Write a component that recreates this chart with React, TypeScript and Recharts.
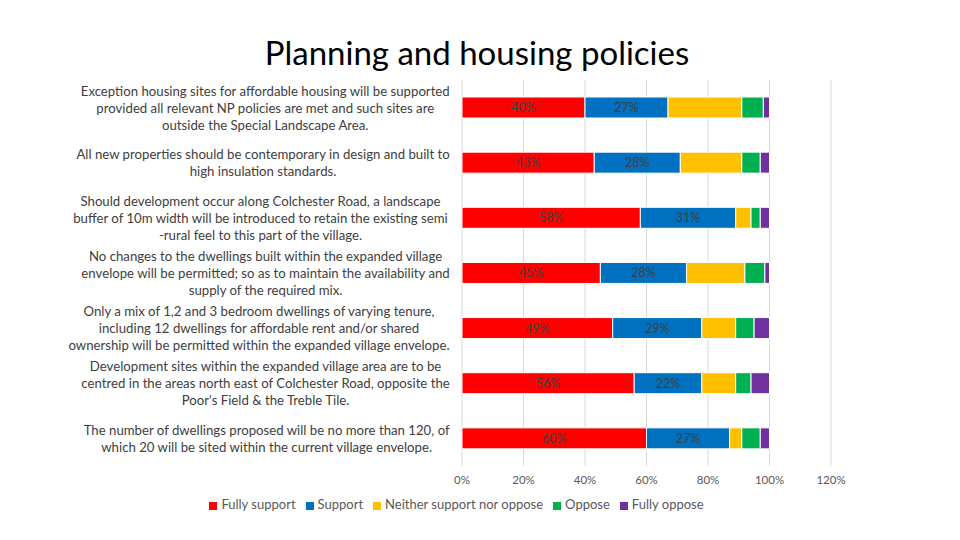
import { BarChart, Bar, XAxis, YAxis, CartesianGrid, Legend, LabelList } from 'recharts';

const FONT = 'Lato, "Noto Sans", sans-serif';

// policy statements, split where the original wraps
const policies = [
  'Exception housing sites for affordable housing will be supported\nprovided all relevant NP policies are met and such sites are\noutside the Special Landscape Area.',
  'All new properties should be contemporary in design and built to\nhigh insulation standards.',
  'Should development occur along Colchester Road, a landscape\nbuffer of 10m width  will be introduced to retain the existing semi\n-rural feel to this part of the village.',
  'No changes to the dwellings built within the expanded village\nenvelope will be permitted; so as to maintain the availability and\nsupply of the required mix.',
  'Only a mix of 1,2 and 3 bedroom dwellings of varying tenure,\nincluding 12 dwellings for affordable rent and/or shared\nownership will be permitted within the expanded village envelope.',
  "Development sites within the expanded village area are to be\ncentred in the areas north east of Colchester Road, opposite the\nPoor's Field & the Treble Tile.",
  'The number of dwellings proposed will be no more than 120, of\nwhich 20 will be sited within the current village envelope.',
];

const fullySupport = [40, 43, 58, 45, 49, 56, 60];
const support = [27, 28, 31, 28, 29, 22, 27];
const neither = [24, 20, 5, 19, 11, 11, 4];
const oppose = [7, 6, 3, 6.5, 6, 5, 6];
const fullyOppose = [2, 3, 3, 1.5, 5, 6, 3];

const xTicks = [0, 20, 40, 60, 80, 100, 120];

const seriesOrder = ['fullySupport', 'support', 'neither', 'oppose', 'fullyOppose'];

const data = policies.map((name, i) => ({
  name,
  fullySupport: fullySupport[i],
  support: support[i],
  neither: neither[i],
  oppose: oppose[i],
  fullyOppose: fullyOppose[i],
}));

let ctx: CanvasRenderingContext2D | null = null;
function measure(text: string, font: string) {
  if (!ctx) ctx = document.createElement('canvas').getContext('2d');
  if (!ctx) return text.length * 6;
  ctx.font = font;
  return ctx.measureText(text).width;
}

function PolicyTick(props: any) {
  const { y, payload } = props;
  const lines: string[] = String(payload.value).split('\n');
  const lh = 17;
  const fs = 13.2;
  const maxW = Math.max(...lines.map((l) => measure(l, `${fs}px ${FONT}`)));
  const cx = 450 - maxW / 2;
  const top = y - ((lines.length - 1) * lh) / 2;
  return (
    <text x={cx} y={top} textAnchor="middle" fontSize={fs} fill="#404040" fontFamily={FONT} dominantBaseline="central">
      {lines.map((l, i) => (
        <tspan key={i} x={cx} y={top + i * lh}>
          {l}
        </tspan>
      ))}
    </text>
  );
}

const pct = (v: any) => `${v}%`;

export default function App() {
  return (
    <div style={{ position: 'relative', width: 960, height: 540, margin: -8, background: '#fff', fontFamily: FONT }}>
      <div
        style={{
          position: 'absolute',
          top: 31,
          left: 0,
          width: 954,
          textAlign: 'center',
          fontSize: 33,
          color: '#000',
          lineHeight: '42px',
        }}
      >
        Planning and housing policies
      </div>
      <BarChart
        width={960}
        height={540}
        data={data}
        layout="vertical"
        margin={{ top: 80, right: 129, left: 0, bottom: 0 }}
        barSize={21}
      >
        <CartesianGrid horizontal={false} stroke="#d9d9d9" />
        <XAxis
          type="number"
          domain={[0, 120]}
          ticks={xTicks}
          tickFormatter={pct}
          axisLine={false}
          tickLine={false}
          height={34}
          interval={0}
          tickMargin={4}
          tick={{ fontSize: 11.5, fill: '#595959', fontFamily: FONT }}
        />
        <YAxis
          type="category"
          dataKey="name"
          width={462}
          axisLine={false}
          tickLine={false}
          interval={0}
          tick={<PolicyTick />}
        />
        <Legend
          height={40}
          iconType="square"
          iconSize={8}
          itemSorter={(item: any) => seriesOrder.indexOf(item.dataKey)}
          wrapperStyle={{ top: 496, left: 46, fontSize: 13, fontFamily: FONT, color: '#595959' }}
          formatter={(v: any) => <span style={{ color: '#595959' }}>{v}</span>}
        />
        <Bar dataKey="fullySupport" name="Fully support" stackId="a" fill="#FF0000" stroke="#fff" strokeWidth={1} isAnimationActive={false}>
          <LabelList dataKey="fullySupport" position="center" formatter={pct} fill="#404040" fontSize={12.5} fontFamily={FONT} />
        </Bar>
        <Bar dataKey="support" name="Support" stackId="a" fill="#0070C0" stroke="#fff" strokeWidth={1} isAnimationActive={false}>
          <LabelList dataKey="support" position="center" formatter={pct} fill="#404040" fontSize={12.5} fontFamily={FONT} />
        </Bar>
        <Bar dataKey="neither" name="Neither support nor oppose" stackId="a" fill="#FFC000" stroke="#fff" strokeWidth={1} isAnimationActive={false} />
        <Bar dataKey="oppose" name="Oppose" stackId="a" fill="#00B050" stroke="#fff" strokeWidth={1} isAnimationActive={false} />
        <Bar dataKey="fullyOppose" name="Fully oppose" stackId="a" fill="#7030A0" stroke="#fff" strokeWidth={1} isAnimationActive={false} />
      </BarChart>
    </div>
  );
}
